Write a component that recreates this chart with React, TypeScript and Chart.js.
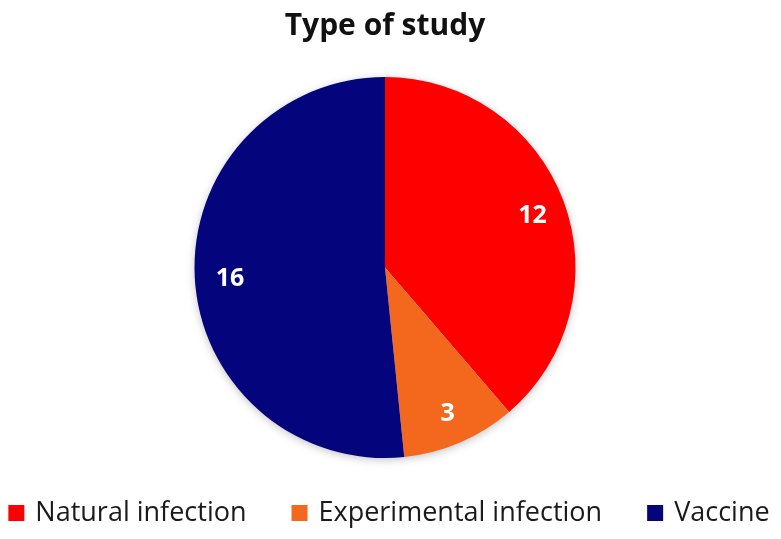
import React, { useEffect, useRef } from "react";
import { Chart, registerables } from "chart.js";

Chart.register(...registerables);

const categories = ["Natural infection", "Experimental infection", "Vaccine"];
const studyCounts = [12, 3, 16];
const sliceColors = ["#FF0000", "#F4681E", "#04047D"];
const chartTitle = "Type of study";

const FONT = "'Open Sans', Lato, sans-serif";

const pieShadow = {
  id: "pieShadow",
  beforeDatasetsDraw(chart: any) {
    const arc = chart.getDatasetMeta(0).data[0];
    if (!arc) return;
    const { x, y, outerRadius } = arc.getProps(["x", "y", "outerRadius"], true);
    const ctx = chart.ctx;
    ctx.save();
    ctx.shadowColor = "rgba(0,0,0,0.28)";
    ctx.shadowBlur = 10;
    ctx.shadowOffsetX = 0;
    ctx.shadowOffsetY = 2;
    ctx.beginPath();
    ctx.arc(x, y, outerRadius - 1, 0, Math.PI * 2);
    ctx.fillStyle = "#ffffff";
    ctx.fill();
    ctx.restore();
  },
};

const sliceLabels = {
  id: "sliceLabels",
  afterDatasetsDraw(chart: any) {
    const ctx = chart.ctx;
    const meta = chart.getDatasetMeta(0);
    const values = chart.data.datasets[0].data;
    ctx.save();
    ctx.fillStyle = "#ffffff";
    ctx.font = `bold 25px ${FONT}`;
    ctx.textAlign = "center";
    ctx.textBaseline = "middle";
    meta.data.forEach((arc: any, i: number) => {
      const { x, y, startAngle, endAngle, outerRadius } = arc.getProps(
        ["x", "y", "startAngle", "endAngle", "outerRadius"],
        true
      );
      const mid = (startAngle + endAngle) / 2;
      const r = outerRadius * 0.82;
      ctx.fillText(String(values[i]), x + Math.cos(mid) * r + 1, y + Math.sin(mid) * r + 3);
    });
    ctx.restore();
  },
};

const bottomLegend = {
  id: "bottomLegend",
  afterDraw(chart: any) {
    const ctx = chart.ctx;
    const labels: string[] = chart.data.labels;
    const colors: string[] = chart.data.datasets[0].backgroundColor;
    const box = 16;
    const boxGap = 11;
    const itemGap = 45;
    const yMid = 513;
    ctx.save();
    ctx.font = `27px ${FONT}`;
    ctx.textBaseline = "middle";
    ctx.textAlign = "left";
    const widths = labels.map((t) => ctx.measureText(t).width);
    const total =
      widths.reduce((a, w) => a + box + boxGap + w, 0) + itemGap * (labels.length - 1);
    let x = 389 - total / 2;
    labels.forEach((t, i) => {
      ctx.fillStyle = colors[i];
      ctx.fillRect(x, yMid - box / 2, box, box);
      ctx.fillStyle = "#1a1a1a";
      ctx.fillText(t, x + box + boxGap, yMid);
      x += box + boxGap + widths[i] + itemGap;
    });
    ctx.restore();
  },
};

export default function App() {
  const ref = useRef<HTMLCanvasElement>(null);
  useEffect(() => {
    if (!ref.current) return;
    const chart = new Chart(ref.current, {
      type: "pie",
      data: {
        labels: categories,
        datasets: [
          {
            data: studyCounts,
            backgroundColor: sliceColors,
            borderWidth: 0,
          },
        ],
      },
      options: {
        animation: false,
        responsive: false,
        layout: { padding: { left: 0, right: 11, top: 0, bottom: 81 } },
        plugins: {
          legend: { display: false },
          tooltip: { enabled: false },
          title: {
            display: true,
            text: chartTitle,
            color: "#111111",
            font: { family: FONT, size: 30, weight: "bold", lineHeight: 1.2 },
            padding: { top: 8, bottom: 33 },
          },
        },
      },
      plugins: [pieShadow, sliceLabels, bottomLegend],
    });
    return () => chart.destroy();
  }, []);
  return (
    <div style={{ position: "fixed", left: 0, top: 0, width: 781, height: 539, background: "#ffffff" }}>
      <canvas ref={ref} width={781} height={539} style={{ display: "block" }} />
    </div>
  );
}
